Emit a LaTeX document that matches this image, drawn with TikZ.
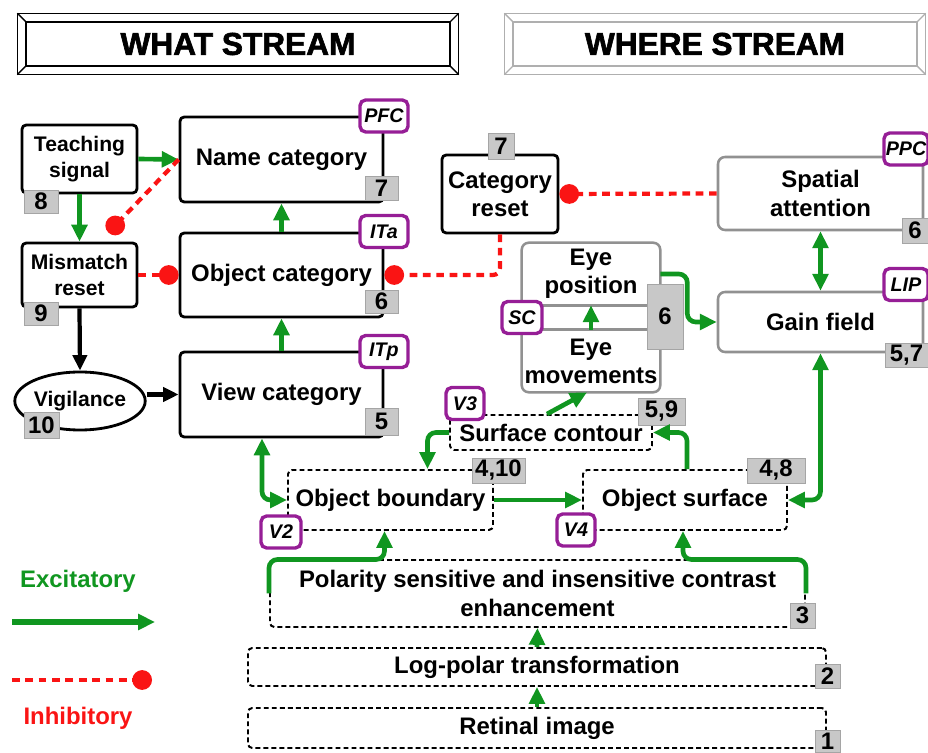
\documentclass[tikz,border=0pt]{standalone}
\usepackage{fontspec}
\setmainfont{Liberation Sans}
\newfontfamily\hdfont[BoldFeatures={FakeBold=2}]{Liberation Sans}
\usepackage{tikz}
\usetikzlibrary{arrows.meta,calc,fit,shapes.geometric}
\definecolor{excgreen}{RGB}{16,150,32}
\definecolor{inhred}{RGB}{250,20,20}
\definecolor{tagpurple}{RGB}{150,30,150}
\definecolor{numgray}{RGB}{200,200,200}
\definecolor{numedge}{RGB}{165,165,165}
\definecolor{boxgray}{RGB}{145,145,145}
\definecolor{hdgray}{RGB}{175,175,175}
\tikzset{
  sz/.style 2 args={minimum width=#1*0.025cm, minimum height=#2*0.025cm},
  blk/.style={draw=black, line width=2pt, rounded corners=3pt, fill=white, inner sep=0pt, align=center, font=\fontsize{17}{20}\selectfont\bfseries},
  sm/.style={font=\fontsize{15}{19}\selectfont\bfseries},
  gry/.style={blk, draw=boxgray, line width=1.8pt, rounded corners=5pt},
  dsh/.style={blk, line width=1.4pt, dash pattern=on 3.5pt off 2.2pt},
  txt/.style={inner sep=0pt, align=center, font=\fontsize{17}{20}\selectfont\bfseries},
  hdbox/.style={draw, line width=1pt, inner sep=0pt, font=\hdfont\fontsize{22.5}{25}\selectfont\bfseries},
  tag/.style={draw=tagpurple, line width=2.4pt, rounded corners=4pt, fill=white, inner sep=0pt, font=\fontsize{14}{14}\selectfont\bfseries\itshape},
  num/.style={draw=numedge, line width=0.6pt, fill=numgray, inner sep=0pt, font=\fontsize{17}{17}\selectfont\bfseries},
  rc/.style={rounded corners=6pt},
  exc/.style={draw=excgreen, line width=3.3pt, -{Triangle[length=12pt,width=11pt]}},
  exc2/.style={exc, {Triangle[length=12pt,width=11pt]}-{Triangle[length=12pt,width=11pt]}},
  ctl/.style={draw=black, line width=3pt, -{Triangle[length=11pt,width=10pt]}},
  inh/.style={draw=inhred, line width=3pt, dash pattern=on 5.5pt off 4pt, -{Circle[length=14pt]}}
}
\begin{document}
\begin{tikzpicture}[x=0.025cm, y=-0.025cm]
\useasboundingbox (0,0) rectangle (928,753);
\node[hdbox, sz={424}{44}] (what) at (238,44) {WHAT STREAM};
\node[hdbox, draw=hdgray, sz={404}{44}] (where) at (715,44) {WHERE STREAM};
\foreach \h/\c in {what/black, where/hdgray}{
  \draw[\c, line width=1pt] ($(\h.north west)+(-8,-8)$) rectangle ($(\h.south east)+(8,8)$);
  \foreach \a/\d in {north west/{-8,-8}, north east/{8,-8}, south west/{-8,8}, south east/{8,8}}
    \draw[\c, line width=1pt] (\h.\a) -- ++(\d);}

\node[blk, sm, sz={115}{68}] (teach) at (79.5,159) {Teaching\\signal};
\node[blk, sz={203}{85}] (namecat) at (281.5,159.5) {Name category};
\node[blk, sm, sz={115}{64}] (mismatch) at (79.5,275) {Mismatch\\reset};
\node[blk, sz={203}{84}] (objcat) at (281.5,275) {Object category};
\node[blk, sm, ellipse, sz={114}{58}] (vigil) at (80,401) {Vigilance};
\node[blk, sz={203}{85}] (viewcat) at (281.5,394.5) {View category};
\node[blk, sz={116}{78}] (catreset) at (500,194) {Category\\reset};
\node[gry, sz={205}{73}] (spatial) at (820.5,193.5) {Spatial\\attention};
\node[gry, sz={205}{60}] (gain) at (820.5,322) {Gain field};
\node[txt, sz={138}{62}] (eyepos) at (591,274) {Eye\\position};
\node[txt, sz={138}{62}] (eyemov) at (591,361) {Eye\\movements};
\node[gry, fill=none, fit=(eyepos)(eyemov)] (eyebox) {};
\draw[boxgray, line width=1.8pt] (eyepos.south west) -- (eyepos.south east) (eyemov.north west) -- (eyemov.north east);
\node[dsh, sz={202}{35}] (surfcont) at (551,432.5) {Surface contour};
\node[dsh, sz={205}{60}] (objbound) at (390.5,500) {Object boundary};
\node[dsh, sz={204}{60}] (objsurf) at (685,500) {Object surface};
\node[dsh, sz={535}{67}] (polarity) at (537.5,593.5) {Polarity sensitive and insensitive contrast\\enhancement};
\node[dsh, sz={578}{38}] (logpolar) at (537,667) {Log-polar transformation};
\node[dsh, sz={578}{40}] (retinal) at (537,728) {Retinal image};

\foreach \p/\w/\t in {{384,116}/48/PFC, {384,231.5}/48/ITa, {384,351.5}/48/ITp, {906,149}/44/PPC, {906,284.5}/44/LIP, {522,317.5}/40/SC, {465,403.5}/38/V3, {281,532}/40/V2, {576,530}/38/V4}
  \node[tag, sz={\w}{32}] (t\t) at (\p) {\t};
\foreach \nm/\p/\w/\h/\t in {nteach/{41,201.5}/34/23/8, nmis/{41,313.5}/34/23/9, nvig/{41.5,425}/35/26/10, nname/{381.5,188}/33/24/7, nobj/{381.5,301.5}/33/23/6, nview/{381.5,421.5}/33/27/5, nreset/{501,146}/26/26/7, nspat/{915,230.5}/26/25/6, ngain/{906.5,355}/43/24/{5,7}, neye/{665,316.5}/36/65/6, nsurf/{661.5,411.5}/47/27/{5,9}, nbound/{498.5,470.5}/53/25/{4,10}, nosurf/{776,470.5}/58/25/{4,8}, npol/{802.5,615.5}/25/25/3, nlog/{827.5,676}/25/24/2, nret/{827.5,741}/25/22/1}
  \node[num, sz={\w}{\h}] (\nm) at (\p) {\t};

\draw[exc] (teach.east) -- (namecat.west);
\draw[exc] (teach.south) -- (mismatch.north);
\draw[exc] (objcat.north) -- (namecat.south);
\draw[exc] (viewcat.north) -- (objcat.south);
\draw[exc] (eyemov.north) -- (eyepos.south);
\draw[exc, rc] (eyepos.east) -- ++(27,0) |- (gain.west);
\draw[exc2] (spatial.south) -- (gain.north);
\draw[exc2, rc] (gain.south) |- (objsurf.east);
\draw[exc2, rc] ($(viewcat.south)+(-19.5,0)$) |- (objbound.west);
\draw[exc] ($(surfcont.north)+(-4,0)$) -- ($(eyemov.south)+(-4,0)$);
\draw[exc, rc] (surfcont.west) -| ($(objbound.north)+(37,0)$);
\draw[exc, rc] ($(objsurf.north)+(2,0)$) |- (surfcont.east);
\draw[exc] (objbound.east) -- (objsurf.west);
\draw[exc, rc] (polarity.west) -- ++(0,-34) -| ($(objbound.south)+(-6,0)$);
\draw[exc, rc] (polarity.east) -- ++(0,-34) -| ($(objsurf.south)+(-2,0)$);
\draw[exc] (logpolar.north) -- (polarity.south);
\draw[exc] (retinal.north) -- (logpolar.south);
\draw[ctl] (mismatch.south) -- (vigil.north);
\draw[ctl] (vigil.east |- viewcat.west) -- (viewcat.west);
\draw[inh] (namecat.west) -- ($(mismatch.north east)+(-30,-9)$);
\draw[inh] (mismatch.east) -- (objcat.west);
\draw[inh, rounded corners=5pt] (catreset.south) |- (objcat.east);
\draw[inh] (spatial.west) -- (catreset.east);

\node[txt, text=excgreen] (exclab) at (78,581) {Excitatory};
\coordinate (excfrom) at (12,622);
\draw[exc, line width=3.6pt] (excfrom) -- ++(143,0);
\coordinate (inhfrom) at (12,680);
\draw[inh] (inhfrom) -- ++(140,0);
\node[txt, text=inhred] (inhlab) at (78,718) {Inhibitory};
\end{tikzpicture}
\end{document}
